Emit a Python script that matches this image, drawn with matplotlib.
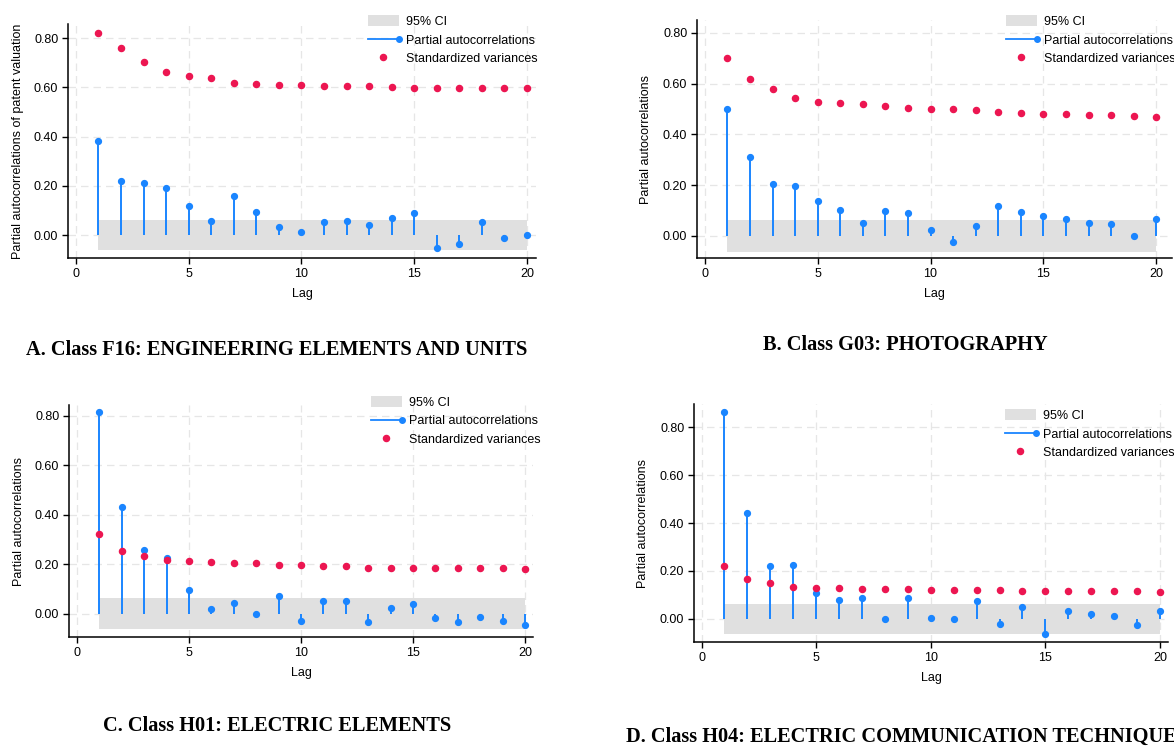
import matplotlib
matplotlib.use("Agg")
import matplotlib.pyplot as plt
from matplotlib.lines import Line2D
from matplotlib.patches import Patch
from matplotlib.legend_handler import HandlerBase
import numpy as np

plt.rcParams['font.family'] = ['Liberation Sans', 'DejaVu Sans']

# Data
lags = list(range(1, 21))

pacf_a = [0.382, 0.220, 0.212, 0.192, 0.117, 0.059, 0.159, 0.094, 0.034, 0.012,
          0.053, 0.057, 0.042, 0.069, 0.089, -0.051, -0.035, 0.055, -0.012, 0.001]
var_a = [0.822, 0.761, 0.702, 0.661, 0.645, 0.639, 0.619, 0.614, 0.611, 0.611,
         0.607, 0.606, 0.606, 0.603, 0.599, 0.598, 0.598, 0.598, 0.598, 0.598]

pacf_b = [0.499, 0.311, 0.205, 0.196, 0.138, 0.104, 0.051, 0.100, 0.091, 0.022,
          -0.022, 0.038, 0.116, 0.093, 0.079, 0.068, 0.049, 0.046, 0.000, 0.066]
var_b = [0.700, 0.619, 0.578, 0.544, 0.528, 0.522, 0.519, 0.511, 0.504, 0.502,
         0.500, 0.498, 0.490, 0.485, 0.482, 0.479, 0.477, 0.477, 0.474, 0.470]

pacf_c = [0.815, 0.431, 0.256, 0.224, 0.097, 0.020, 0.042, 0.000, 0.070, -0.028,
          0.050, 0.050, -0.035, 0.024, 0.040, -0.016, -0.035, -0.012, -0.028, -0.047]
var_c = [0.321, 0.253, 0.233, 0.218, 0.211, 0.209, 0.206, 0.203, 0.198, 0.197,
         0.194, 0.191, 0.186, 0.185, 0.183, 0.183, 0.183, 0.183, 0.183, 0.182]

pacf_d = [0.861, 0.442, 0.221, 0.224, 0.108, 0.079, 0.088, 0.000, 0.088, 0.006,
          0.001, 0.075, -0.021, 0.051, -0.063, 0.035, 0.022, 0.013, -0.024, 0.032]
var_d = [0.221, 0.165, 0.150, 0.135, 0.131, 0.128, 0.126, 0.125, 0.124, 0.122,
         0.122, 0.119, 0.119, 0.117, 0.117, 0.115, 0.115, 0.115, 0.115, 0.114]

ci_bounds = [0.062, 0.062, 0.062, 0.063]

titles = ['A. Class F16: ENGINEERING ELEMENTS AND UNITS',
          'B. Class G03: PHOTOGRAPHY',
          'C. Class H01: ELECTRIC ELEMENTS',
          'D. Class H04: ELECTRIC COMMUNICATION TECHNIQUE']
ylabels = ['Partial autocorrelations of patent valuation',
           'Partial autocorrelations',
           'Partial autocorrelations',
           'Partial autocorrelations']

BLUE = '#1a85ff'
RED = '#ec1651'
BAND = '#e0e0e0'
GRID = '#e6e6e6'

W, H = 1174, 746


class HandlerLineDot(HandlerBase):
    """Stata-style legend key: line with a dot at the right end"""
    def create_artists(self, legend, orig_handle, xdescent, ydescent,
                       width, height, fontsize, trans):
        y = height / 2 - ydescent
        line = Line2D([-xdescent, width - xdescent], [y, y], color=BLUE, lw=1.3)
        dot = Line2D([width - xdescent], [y], color=BLUE, marker='o', ms=4, ls='none')
        line.set_transform(trans)
        dot.set_transform(trans)
        return [line, dot]


def px_axes(fig, left, top, right, bottom):
    return fig.add_axes([left / W, 1 - bottom / H, (right - left) / W, (bottom - top) / H])


def draw_panel(ax, pacf, var, ci, ylabel, xlim, ylim, legend_pos):
    ax.fill_between([lags[0], lags[-1]], [-ci, -ci], [ci, ci], color=BAND, lw=0, zorder=1)
    ax.vlines(lags, 0, pacf, color=BLUE, lw=1.4, zorder=3)
    ax.plot(lags, pacf, 'o', color=BLUE, ms=4.2, zorder=4)
    ax.plot(lags, var, 'o', color=RED, ms=4.4, zorder=4)

    ax.set_xlim(*xlim)
    ax.set_ylim(*ylim)
    ax.set_xticks([0, 5, 10, 15, 20])
    ax.set_yticks([0, 0.2, 0.4, 0.6, 0.8])
    ax.set_yticklabels([f'{v:.2f}' for v in [0, 0.2, 0.4, 0.6, 0.8]])
    ax.grid(True, color=GRID, ls=(0, (6, 4)), lw=0.9, zorder=0)
    ax.set_axisbelow(True)
    for s in ['top', 'right']:
        ax.spines[s].set_visible(False)
    for s in ['left', 'bottom']:
        ax.spines[s].set_linewidth(1.1)
    ax.tick_params(labelsize=9, length=4, width=1, direction='out', pad=3, colors='black')

    ax.set_ylabel(ylabel, fontsize=9)
    ax.yaxis.set_label_coords(-0.095, 0.5)
    ax.set_xlabel('Lag', fontsize=9)
    ax.xaxis.set_label_coords(0.5, -0.128)

    handles = [Patch(facecolor=BAND, edgecolor='none'),
               Line2D([], [], color=BLUE),
               Line2D([], [], color=RED, marker='o', ls='none', ms=4.4)]
    labels = ['95% CI', 'Partial autocorrelations', 'Standardized variances']
    ax.figure.legend(handles, labels, loc='upper left',
                     bbox_to_anchor=(legend_pos[0] / W, 1 - legend_pos[1] / H),
                     frameon=False, fontsize=9, handlelength=2.45, handleheight=1.0,
                     handletextpad=0.6, labelspacing=0.46, borderpad=0, borderaxespad=0,
                     handler_map={handles[1]: HandlerLineDot()})


fig = plt.figure(figsize=(W / 100, H / 100), dpi=100)

ax_a = px_axes(fig, 68, 24, 536, 258)
draw_panel(ax_a, pacf_a, var_a, ci_bounds[0], ylabels[0],
           (-0.35, 20.4), (-0.093, 0.857), (368, 15))

ax_b = px_axes(fig, 697, 20, 1172, 258)
draw_panel(ax_b, pacf_b, var_b, ci_bounds[1], ylabels[1],
           (-0.35, 20.7), (-0.087, 0.851), (1006, 15))

ax_c = px_axes(fig, 69, 405, 533, 637)
draw_panel(ax_c, pacf_c, var_c, ci_bounds[2], ylabels[2],
           (-0.357, 20.36), (-0.094, 0.843), (371, 396))

ax_d = px_axes(fig, 694, 404, 1168, 642)
draw_panel(ax_d, pacf_d, var_d, ci_bounds[3], ylabels[3],
           (-0.33, 20.35), (-0.096, 0.896), (1005, 409))

# Panel captions
serif = ['Liberation Serif', 'DejaVu Serif']
cap = dict(fontsize=14.7, fontweight='bold', family=serif, va='center')
fig.text(277 / W, 1 - 350 / H, titles[0], ha='center', **cap)
fig.text(905 / W, 1 - 345 / H, titles[1], ha='center', **cap)
fig.text(277 / W, 1 - 726 / H, titles[2], ha='center', **cap)
fig.text(626 / W, 1 - 737 / H, titles[3], ha='left', **cap)

fig.savefig('out.png', dpi=100)
